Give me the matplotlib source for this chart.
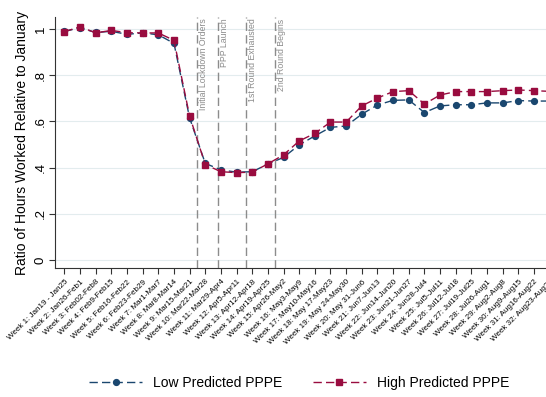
import matplotlib
matplotlib.use("Agg")
import matplotlib.pyplot as plt

plt.rcParams['font.family'] = ['Liberation Sans', 'DejaVu Sans']

week_labels = [
    "Week 1: Jan19 - Jan25", "Week 2: Jan26-Feb1", "Week 3: Feb02-Feb8", "Week 4: Feb9-Feb15",
    "Week 5: Feb16-Feb22", "Week 6: Feb23-Feb29", "Week 7: Mar1-Mar7", "Week 8: Mar8-Mar14",
    "Week 9: Mar15-Mar21", "Week 10: Mar22-Mar28", "Week 11: Mar29-Apr4", "Week 12: Apr5-Apr11",
    "Week 13: Apr12-Apr18", "Week 14: Apr19-Apr25", "Week 15: Apr26-May2", "Week 16: May3-May9",
    "Week 17: May10-May16", "Week 18: May 17-May23", "Week 19: May 24-May30", "Week 20: May 31-Jun6",
    "Week 21: Jun7-Jun13", "Week 22: Jun14-Jun20", "Week 23: Jun21-Jun27", "Week 24: Jun28-Jul4",
    "Week 25: Jul5-Jul11", "Week 26: Jul12-Jul18", "Week 27: Jul19-Jul25", "Week 28: Jul26-Aug1",
    "Week 29: Aug2-Aug8", "Week 30: Aug9-Aug15", "Week 31: Aug16-Aug22", "Week 32: Aug23-Aug29",
]
weeks = list(range(1, 33))

low_ppe = [0.990, 1.005, 0.985, 0.990, 0.977, 0.983, 0.975, 0.938, 0.615, 0.418, 0.390, 0.380,
           0.382, 0.415, 0.444, 0.498, 0.537, 0.574, 0.580, 0.631, 0.671, 0.691, 0.693, 0.638,
           0.667, 0.672, 0.672, 0.680, 0.680, 0.690, 0.688, 0.688]
high_ppe = [0.988, 1.010, 0.983, 0.994, 0.984, 0.983, 0.983, 0.951, 0.623, 0.413, 0.382, 0.378,
            0.380, 0.416, 0.455, 0.515, 0.548, 0.597, 0.597, 0.667, 0.701, 0.729, 0.733, 0.675,
            0.714, 0.729, 0.729, 0.729, 0.733, 0.736, 0.733, 0.730]

event_x = [9.45, 10.8, 12.6, 14.45]
event_labels = ["Initial Lockdown Orders", "PPP Launch", "1st Round Exhausted", "2nd Round Begins"]

yticks = [0, 0.2, 0.4, 0.6, 0.8, 1.0]
ytick_labels = ["0", ".2", ".4", ".6", ".8", "1"]

navy = "#1a476f"
cranberry = "#990c3f"

fig = plt.figure(figsize=(5.46, 3.97), dpi=100)
ax = fig.add_axes([55/546, 1 - 268/397, 504/546, 251/397])

for y in yticks:
    ax.axhline(y, color="#e3ecee", lw=0.8, zorder=0)

for xv, lab in zip(event_x, event_labels):
    ax.axvline(xv, color="#8c8c8c", lw=1.0, ls=(0, (6, 3)), zorder=1)
    ax.text(xv + 0.12, 1.045, lab, rotation=90, ha="left", va="top",
            fontsize=6.3, color="#8c8c8c")

ax.plot(weeks, low_ppe, color=navy, ls=(0, (6, 3)), lw=1.0, marker="o", ms=4.2,
        label="Low Predicted PPPE", zorder=3)
ax.plot(weeks, high_ppe, color=cranberry, ls=(0, (6, 3)), lw=1.0, marker="s", ms=4.5,
        label="High Predicted PPPE", zorder=4)

ax.set_xlim(0.4, 32.6)
ax.set_ylim(-0.035, 1.052)
ax.set_xticks(weeks)
ax.set_xticklabels(week_labels, rotation=45, ha="right", rotation_mode="anchor", fontsize=5.8)
ax.set_yticks(yticks)
ax.set_yticklabels(ytick_labels, rotation=90, va="center", fontsize=9.5)
ax.set_ylabel("Ratio of Hours Worked Relative to January", fontsize=10)

for s in ["top", "right"]:
    ax.spines[s].set_visible(False)
for s in ["left", "bottom"]:
    ax.spines[s].set_color("#333333")
ax.tick_params(axis="both", direction="out", length=4, color="#333333", width=0.8)
ax.tick_params(axis="y", pad=2)

handles, labels = ax.get_legend_handles_labels()
fig.legend(handles, labels, loc="center", bbox_to_anchor=(0.548, 1 - 383/397), ncol=2,
           frameon=False, fontsize=10, handlelength=3.8, columnspacing=2.2)

fig.savefig("out.png", dpi=100)
